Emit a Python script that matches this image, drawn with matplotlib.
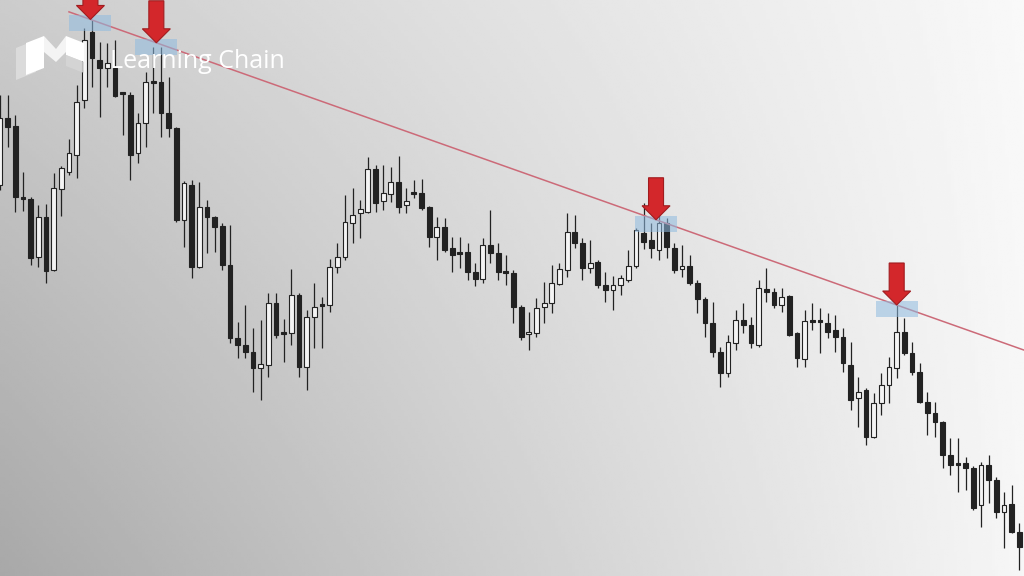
import matplotlib
matplotlib.use("Agg")
import matplotlib.pyplot as plt
import numpy as np
from matplotlib.patches import Polygon, Rectangle

# candle data (price units), oldest first
highs = [481, 481, 461, 404, 379, 371, 372, 403, 410, 437, 491, 548, 556, 534, 533, 536, 484, 484, 463, 504,
         529, 529, 499, 449, 395, 396, 394, 376, 360, 353, 351, 254, 271, 248, 256, 283, 283, 257, 307, 283,
         266, 293, 279, 317, 333, 381, 388, 376, 419, 411, 411, 409, 420, 388, 396, 397, 370, 359, 358, 339,
         339, 333, 313, 338, 366, 333, 321, 306, 271, 264, 278, 294, 311, 313, 363, 361, 338, 336, 316, 304,
         300, 301, 326, 348, 373, 353, 373, 358, 333, 331, 321, 296, 279, 274, 229, 241, 266, 273, 259, 296,
         308, 288, 288, 281, 244, 266, 273, 268, 263, 261, 248, 234, 199, 188, 183, 203, 219, 271, 258, 234,
         213, 184, 174, 155, 138, 138, 119, 110, 114, 121, 99, 84, 91, 53]
opens = [391, 458, 450, 379, 377, 319, 359, 306, 387, 404, 421, 476, 544, 516, 508, 508, 483, 481, 423, 453,
         494, 494, 463, 448, 356, 391, 309, 369, 359, 350, 311, 238, 231, 224, 208, 211, 273, 243, 243, 281,
         209, 259, 271, 271, 309, 319, 353, 363, 364, 407, 375, 382, 394, 371, 383, 383, 369, 339, 349, 328,
         323, 324, 304, 297, 331, 323, 304, 303, 269, 242, 243, 269, 273, 292, 306, 344, 333, 308, 314, 291,
         286, 291, 296, 310, 343, 336, 326, 353, 328, 307, 310, 293, 277, 253, 224, 203, 233, 256, 251, 231,
         287, 284, 271, 280, 243, 217, 255, 255, 253, 246, 239, 211, 178, 186, 139, 173, 191, 208, 244, 223,
         204, 174, 163, 154, 121, 112, 113, 108, 71, 111, 96, 64, 72, 44]
closes = [458, 449, 379, 377, 318, 359, 305, 388, 408, 423, 474, 536, 518, 508, 513, 480, 482, 421, 453, 494,
          493, 463, 448, 356, 393, 309, 369, 359, 349, 311, 238, 231, 224, 208, 212, 273, 241, 242, 281, 209,
          259, 269, 270, 309, 319, 354, 361, 367, 407, 373, 383, 394, 369, 375, 382, 368, 339, 349, 326, 321,
          322, 304, 297, 331, 323, 304, 303, 269, 239, 244, 268, 273, 293, 307, 344, 333, 308, 313, 291, 286,
          291, 298, 310, 346, 334, 328, 353, 329, 306, 310, 293, 277, 253, 224, 203, 234, 256, 251, 233, 288,
          284, 271, 279, 241, 218, 255, 254, 254, 244, 239, 213, 176, 184, 139, 173, 191, 209, 244, 223, 204,
          174, 163, 154, 121, 111, 111, 108, 68, 111, 96, 64, 71, 44, 29]
lows = [386, 429, 364, 365, 311, 309, 293, 305, 360, 401, 398, 468, 489, 459, 489, 479, 441, 396, 413, 429,
        463, 439, 439, 354, 329, 298, 308, 323, 324, 306, 233, 218, 218, 184, 176, 199, 238, 214, 231, 199,
        186, 228, 228, 264, 303, 316, 333, 338, 363, 364, 366, 374, 363, 363, 378, 366, 329, 316, 324, 304,
        308, 296, 290, 293, 313, 296, 291, 253, 236, 226, 239, 253, 263, 291, 299, 328, 296, 303, 288, 274,
        266, 281, 294, 308, 327, 318, 316, 318, 303, 299, 291, 263, 239, 219, 189, 199, 226, 243, 228, 229,
        274, 268, 264, 240, 209, 209, 246, 223, 238, 224, 204, 166, 149, 131, 138, 161, 173, 198, 221, 201,
        173, 141, 139, 108, 101, 84, 86, 66, 49, 73, 58, 28, 43, 6]

# resistance line drawn through two candle highs, and where the markers sit
trend_anchor = [12, 117]
touch_idx = [11.8, 20.4, 85.6, 117.0]
logo_text = "Learning Chain"

W, H = 1024, 576
fig = plt.figure(figsize=(W / 100, H / 100), dpi=100)
ax = fig.add_axes([0, 0, 1, 1])
ax.set_axis_off()
x_lo, x_hi = 0, W / 7.664
ax.set_xlim(x_lo, x_hi)
ax.set_ylim(0, H)

# grey gradient backdrop: darker bottom-left, nearly white on the right
gx, gy = np.meshgrid(np.linspace(0, 1, 300), np.linspace(0, 1, 200))
tl, bl, tr, br = 0.80, 0.66, 0.975, 0.965
bg = (1 - gx) * ((1 - gy) * tl + gy * bl) + gx * ((1 - gy) * tr + gy * br)
ax.imshow(bg, cmap="gray", vmin=0, vmax=1, extent=(x_lo, x_hi, 0, H),
          aspect="auto", origin="upper", zorder=0, interpolation="bilinear")

idx = np.arange(len(opens))
o = np.array(opens, float)
c = np.array(closes, float)
up = c >= o
dark = "#222222"

ax.vlines(idx, lows, highs, color=dark, linewidth=0.9, zorder=2)
body_lo = np.minimum(o, c)
body_h = np.maximum(np.abs(c - o), 2.0)
ax.bar(idx, body_h, bottom=body_lo, width=0.62,
       color=np.where(up, "#f4f4f4", dark), edgecolor=dark, linewidth=0.8, zorder=3)

# trend line
i0, i1 = trend_anchor
slope = (highs[i1] - highs[i0]) / (i1 - i0)
line_x = np.array([9.0, x_hi + 1])
line_y = highs[i0] + slope * (line_x - i0)
ax.plot(line_x, line_y, color="#cc6a78", linewidth=1.1, zorder=4)

# highlight boxes and red arrows at the touches
px = 1 / 7.664  # one pixel in x data units
for t in touch_idx:
    ty = highs[i0] + slope * (t - i0)
    ax.add_patch(Rectangle((t - 21 * px, ty - 12), 42 * px, 16,
                           facecolor="#8fbbe0", alpha=0.55, edgecolor="none", zorder=5))
    sw, hw, hl, tot = 7.5, 14, 14, 42
    pts = [(t, ty), (t - hw * px, ty + hl), (t - sw * px, ty + hl), (t - sw * px, ty + tot),
           (t + sw * px, ty + tot), (t + sw * px, ty + hl), (t + hw * px, ty + hl)]
    ax.add_patch(Polygon(pts, closed=True, facecolor="#d3272b", edgecolor="#a01c1f",
                         linewidth=0.8, zorder=6))

# logo
def fpoly(points, **kw):
    p = Polygon([(x / W, 1 - y / H) for x, y in points], closed=True,
                transform=fig.transFigure, zorder=8, **kw)
    fig.patches.append(p)

fpoly([(16, 48), (36, 40), (36, 72), (16, 80)], facecolor="#e2e2e2", alpha=0.75, edgecolor="none")
fpoly([(26, 43), (44, 36), (44, 68), (26, 75)], facecolor="#ffffff", edgecolor="none")
fpoly([(44, 36), (56, 49), (66, 36), (66, 52), (56, 62), (44, 52)], facecolor="#f4f4f4", edgecolor="none")
fpoly([(66, 36), (84, 43), (84, 62), (66, 55)], facecolor="#ffffff", edgecolor="none")
fpoly([(66, 55), (84, 62), (84, 73), (66, 66)], facecolor="#d6d6d6", alpha=0.85, edgecolor="none")
fig.text(110 / W, 1 - 61 / H, logo_text, color="white", fontsize=18,
         family=["Open Sans", "DejaVu Sans"], va="center", ha="left", zorder=9)

fig.savefig("out.png", dpi=100)
